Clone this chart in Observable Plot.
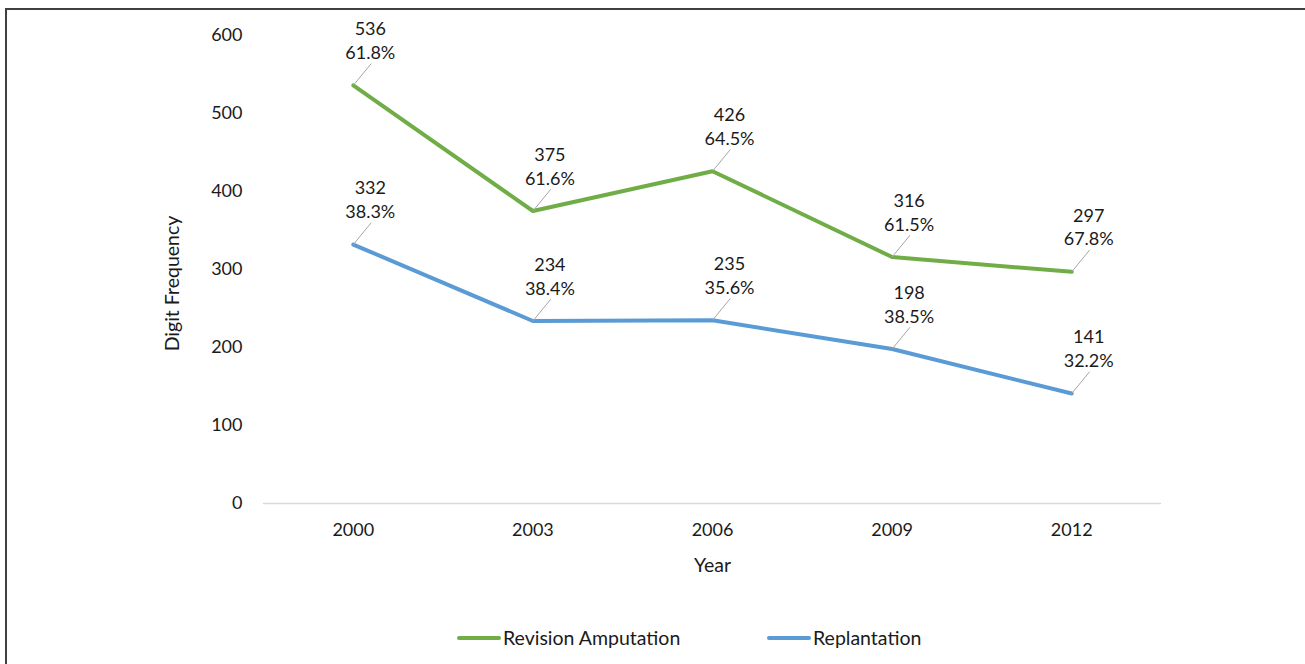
<!DOCTYPE html>
<html>
<head>
<meta charset="utf-8">
<script src="https://cdn.jsdelivr.net/npm/d3@7"></script>
<script src="https://cdn.jsdelivr.net/npm/@observablehq/plot@0.6"></script>
<style>
  html, body { margin: 0; padding: 0; background: #fff; }
  body { width: 1305px; height: 664px; position: relative; overflow: hidden; font-family: Lato, "Open Sans", sans-serif; }
  #frame { position: absolute; left: 5px; top: 8px; width: 1400px; height: 700px; border-left: 2px solid #404040; border-top: 2px solid #404040; }
  #chart { position: absolute; left: 0; top: 0; }
  #legend { position: absolute; top: 626px; left: 0; width: 1305px; height: 24px; font-size: 19.5px; color: #1a1a1a; }
  .item { position: absolute; display: flex; align-items: center; }
  .swatch { width: 44px; height: 4px; border-radius: 2px; margin-right: 2px; }
</style>
</head>
<body>
<div id="frame"></div>
<div id="chart"></div>
<div id="legend"></div>
<script>
const years = [2000, 2003, 2006, 2009, 2012];
const seriesNames = ["Revision Amputation", "Replantation"];
const revisionAmputation = [536, 375, 426, 316, 297];
const revisionPct = ["61.8%", "61.6%", "64.5%", "61.5%", "67.8%"];
const replantation = [332, 234, 235, 198, 141];
const replantationPct = ["38.3%", "38.4%", "35.6%", "38.5%", "32.2%"];
const yTicks = [0, 100, 200, 300, 400, 500, 600];
const colors = ["#70AD47", "#5B9BD5"];

const data = [];
years.forEach((yr, i) => {
  data.push({series: seriesNames[0], year: yr, value: revisionAmputation[i], pct: revisionPct[i]});
  data.push({series: seriesNames[1], year: yr, value: replantation[i], pct: replantationPct[i]});
});

const font = "Lato, 'Open Sans', sans-serif";

const chart = Plot.plot({
  width: 1305,
  height: 600,
  marginLeft: 263,
  marginRight: 144,
  marginTop: 35,
  marginBottom: 97,
  style: {fontFamily: font, fontSize: "18px", color: "#1a1a1a", background: "transparent"},
  x: {type: "linear", domain: [1998.5, 2013.5], label: null},
  y: {domain: [0, 600], label: null},
  color: {domain: seriesNames, range: colors},
  marks: [
    Plot.ruleY([0], {stroke: "#d9d9d9", strokeWidth: 1.5}),
    Plot.axisX(years, {tickSize: 0, tickPadding: 20, tickFormat: d => String(d), fontSize: 18, label: null}),
    Plot.axisY(yTicks, {tickSize: 0, tickPadding: 21, fontSize: 18, label: null}),
    Plot.text(["Digit Frequency"], {frameAnchor: "left", textAnchor: "middle", dx: -91, dy: 14, rotate: -90, fontSize: 19.5, fill: "#1a1a1a"}),
    Plot.text(["Year"], {frameAnchor: "bottom", dy: 68, fontSize: 19.5, fill: "#1a1a1a"}),
    Plot.line(data, {x: "year", y: "value", z: "series", stroke: "series", strokeWidth: 4, strokeLinejoin: "round", strokeLinecap: "round"}),
    Plot.link(data, {x1: "year", y1: "value", x2: d => d.year + 0.3, y2: d => d.value + 28, stroke: "#a6a6a6", strokeWidth: 1}),
    Plot.text(data, {x: "year", y: "value", text: d => `${d.value}\n${d.pct}`, dx: 17, dy: -46, lineAnchor: "middle", lineHeight: 1.33, fontSize: 18, fill: "#1a1a1a"})
  ]
});
document.getElementById("chart").appendChild(chart);

const legend = document.getElementById("legend");
const legendLeft = [457, 767];
seriesNames.forEach((name, i) => {
  const item = document.createElement("div");
  item.className = "item";
  item.style.left = legendLeft[i] + "px";
  const sw = document.createElement("div");
  sw.className = "swatch";
  sw.style.background = colors[i];
  const label = document.createElement("span");
  label.textContent = name;
  item.appendChild(sw);
  item.appendChild(label);
  legend.appendChild(item);
});
</script>
</body>
</html>
